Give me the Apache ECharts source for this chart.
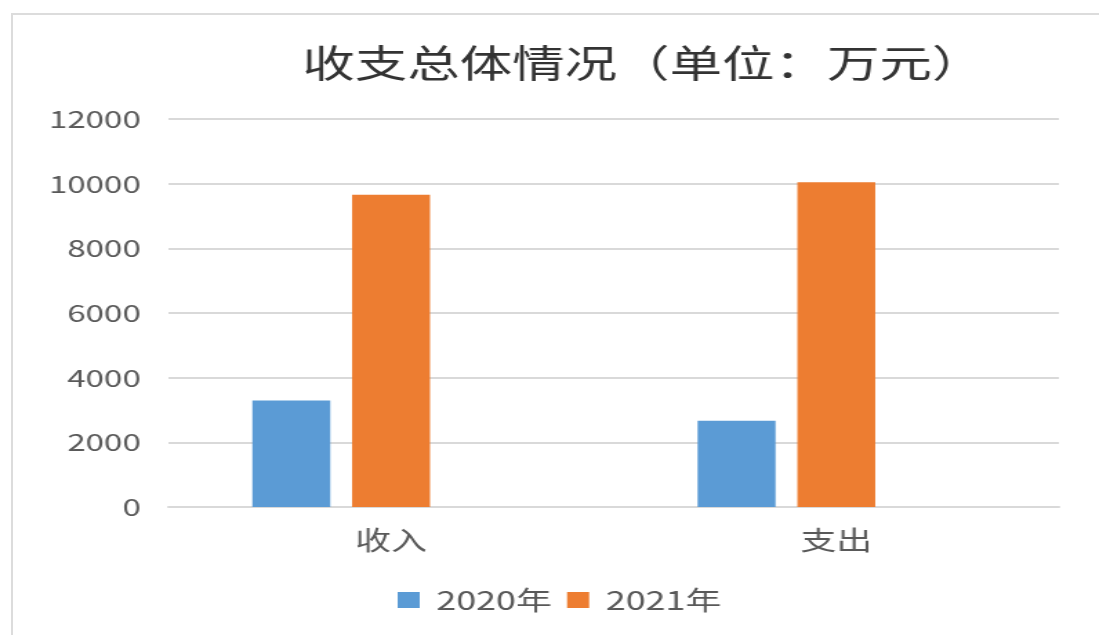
<!DOCTYPE html>
<html>
<head>
<meta charset="utf-8">
<script src="https://cdn.jsdelivr.net/npm/echarts@6/dist/echarts.min.js"></script>
<style>
  html, body { margin: 0; padding: 0; background: #ffffff; overflow: hidden; }
  #wrap { position: relative; width: 1099px; height: 635px; overflow: hidden; background: #fff; }
  #frame { position: absolute; left: 11px; top: 13px; width: 1200px; height: 700px;
           border-left: 2px solid #dcdcdc; border-top: 2px solid #dcdcdc; }
  #chart { position: absolute; left: 0; top: 0; width: 796px; height: 635px;
           transform: scaleX(1.3806); transform-origin: 0 0; }
</style>
</head>
<body>
<div id="wrap">
  <div id="frame"></div>
  <div id="chart"></div>
</div>
<script>
const titleText = '收支总体情况（单位：万元）';
const categories = ['收入', '支出'];
const seriesNames = ['2020年', '2021年'];
const values2020 = [3290, 2670];
const values2021 = [9660, 10040];
const valuesEmpty = [null, null];
const yTicks = [0, 2000, 4000, 6000, 8000, 10000, 12000];

const FONT = '"Noto Sans CJK SC", "Noto Sans", sans-serif';
const chart = echarts.init(document.getElementById('chart'), null, { renderer: 'canvas' });
chart.setOption({
  animation: false,
  backgroundColor: 'transparent',
  title: {
    text: titleText,
    left: 219,
    top: 44,
    padding: 0,
    textStyle: { fontFamily: FONT, fontSize: 38, fontWeight: 'normal', color: '#333333' }
  },
  legend: {
    data: seriesNames,
    left: 288,
    top: 587,
    padding: 0,
    itemWidth: 16,
    itemHeight: 16,
    itemGap: 11,
    icon: 'rect',
    textStyle: { fontFamily: FONT, fontSize: 26, color: '#595959', padding: [0, 0, 0, 7] }
  },
  grid: { left: 122, right: 29, top: 119, bottom: 128, containLabel: false },
  xAxis: {
    type: 'category',
    data: categories,
    axisLine: { show: true, lineStyle: { color: '#d9d9d9', width: 2 } },
    axisTick: { show: false },
    axisLabel: { margin: 20, fontFamily: FONT, fontSize: 26, color: '#595959' }
  },
  yAxis: {
    type: 'value',
    min: yTicks[0],
    max: yTicks[yTicks.length - 1],
    interval: yTicks[1] - yTicks[0],
    axisLine: { show: false },
    axisTick: { show: false },
    axisLabel: { margin: 20, fontFamily: FONT, fontSize: 24, color: '#595959',
                 formatter: function (v) { return String(v); } },
    splitLine: { show: true, lineStyle: { color: '#d9d9d9', width: 2 } }
  },
  series: [
    { name: seriesNames[0], type: 'bar', data: values2020, barWidth: '17.5%', barGap: '28%',
      itemStyle: { color: '#5b9bd5' } },
    { name: seriesNames[1], type: 'bar', data: values2021, barWidth: '17.5%', barGap: '28%',
      itemStyle: { color: '#ed7d31' } },
    { name: 'empty', type: 'bar', data: valuesEmpty, barWidth: '17.5%', barGap: '28%',
      itemStyle: { color: '#a5a5a5' } }
  ]
});
</script>
</body>
</html>
